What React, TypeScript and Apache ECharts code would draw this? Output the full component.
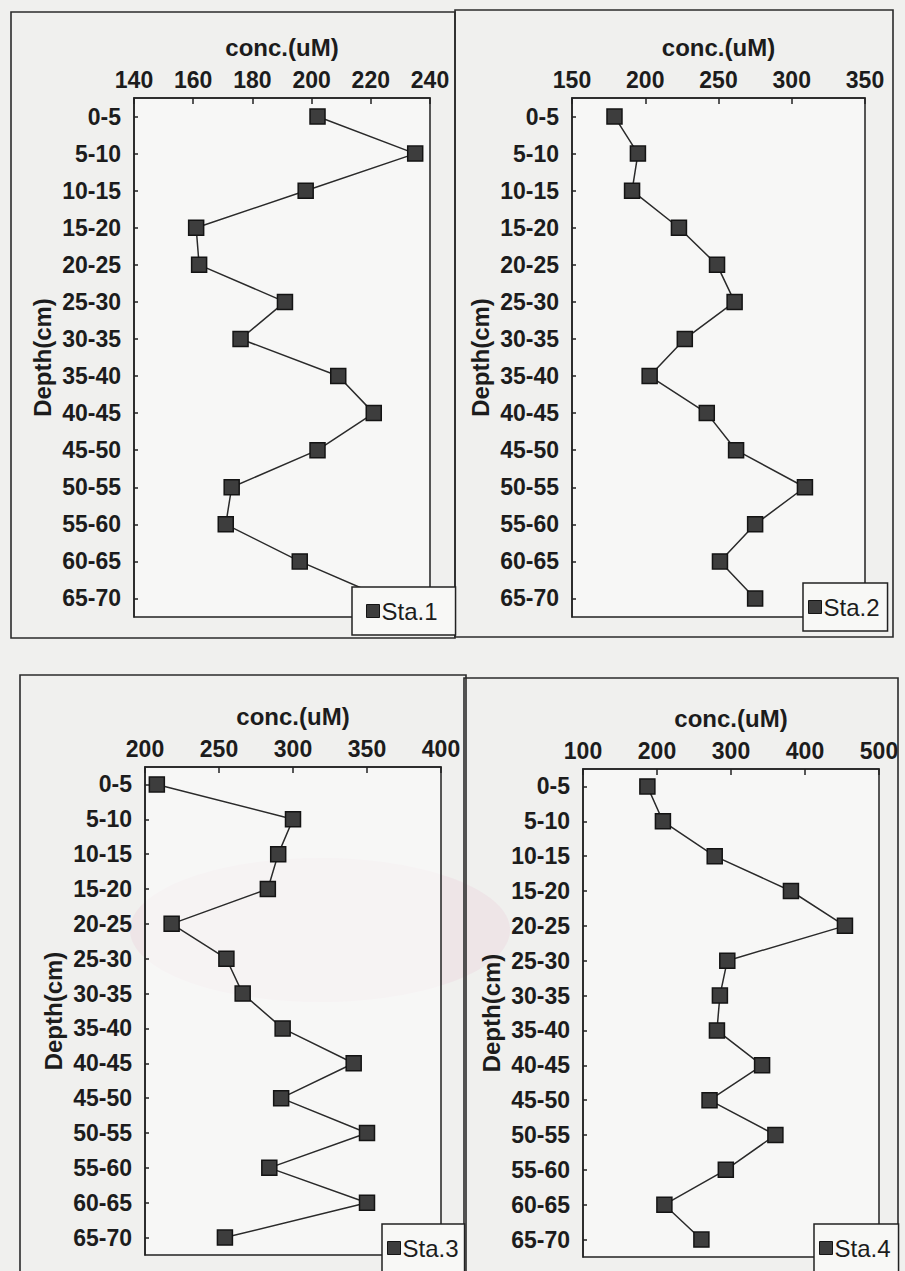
import React, { useEffect, useRef } from "react";
import * as echarts from "echarts";

// Depth intervals (cm), top to bottom
const depths = [
  "0-5", "5-10", "10-15", "15-20", "20-25", "25-30", "30-35",
  "35-40", "40-45", "45-50", "50-55", "55-60", "60-65", "65-70",
];

// Concentration profiles (uM) for each station
const sta1 = [202, 235, 198, 161, 162, 191, 176, 209, 221, 202, 173, 171, 196, 225];
const sta2 = [179, 195, 191, 223, 249, 261, 227, 203, 242, 262, 309, 275, 251, 275];
const sta3 = [208, 300, 290, 283, 218, 255, 266, 293, 341, 292, 350, 284, 350, 254];
const sta4 = [187, 208, 278, 381, 454, 295, 285, 281, 342, 271, 360, 293, 210, 260];

const stationNames = ["Sta.1", "Sta.2", "Sta.3", "Sta.4"];
const stationData = [sta1, sta2, sta3, sta4];

// Concentration axis ranges
const xMin = [140, 150, 200, 100];
const xMax = [240, 350, 400, 500];
const xStep = [20, 50, 50, 100];

const FONT = "'Liberation Sans', Arial, sans-serif";
const INK = "#1c1c1c";
const FS = 24;

// Plot rectangles [left, top, width, height]
const gridBoxes = [
  [134, 98, 296, 519],
  [572, 98, 293, 519],
  [145, 767, 296, 488],
  [583, 769, 296, 488],
];

// Outer frames [x, y, w, h]
const frames = [
  [11, 12, 444, 626],
  [455, 10, 438, 627],
  [20, 675, 446, 620],
  [464, 678, 434, 620],
];

// Legend boxes: left, top, padding
const legendPos = [
  { left: 352, top: 587, padding: [12, 18, 12, 14] },
  { left: 803, top: 583, padding: [12, 8, 12, 5] },
  { left: 382, top: 1224, padding: [12, 6, 20, 5] },
  { left: 814, top: 1224, padding: [12, 8, 20, 5] },
];

export default function App() {
  const ref = useRef<HTMLDivElement>(null);

  useEffect(() => {
    if (!ref.current) return;
    const chart = echarts.init(ref.current, null, { renderer: "svg" });

    const grid = gridBoxes.map(([l, t, w, h]) => ({
      left: l,
      top: t,
      width: w,
      height: h,
      show: true,
      backgroundColor: "rgba(252,252,251,0.6)",
      borderColor: "#222",
      borderWidth: 1.5,
    }));

    const xAxis = stationData.map((_, i) => ({
      type: "value",
      gridIndex: i,
      position: "top",
      min: xMin[i],
      max: xMax[i],
      interval: xStep[i],
      name: "conc.(uM)",
      nameLocation: "middle",
      nameGap: 39,
      nameTextStyle: { color: INK, fontFamily: FONT, fontWeight: "bold", fontSize: FS },
      axisLine: { show: true, lineStyle: { color: "#222", width: 1.5 } },
      axisTick: { show: true, inside: true, length: 6, lineStyle: { color: "#222", width: 1.5 } },
      axisLabel: { color: INK, fontFamily: FONT, fontWeight: "bold", fontSize: FS - 1, margin: 7 },
      splitLine: { show: false },
    }));

    const yAxis = stationData.map((_, i) => ({
      type: "category",
      gridIndex: i,
      data: depths,
      inverse: true,
      boundaryGap: true,
      name: "Depth(cm)",
      nameLocation: "middle",
      nameGap: 80,
      nameTextStyle: { color: INK, fontFamily: FONT, fontWeight: "bold", fontSize: FS },
      axisLine: { show: true, lineStyle: { color: "#222", width: 1.5 } },
      axisTick: { show: true, inside: true, alignWithLabel: true, length: 4, lineStyle: { color: "#222", width: 1.5 } },
      axisLabel: { color: INK, fontFamily: FONT, fontWeight: "bold", fontSize: FS - 1, margin: 13 },
      splitLine: { show: false },
    }));

    const series = stationData.map((data, i) => ({
      name: stationNames[i],
      type: "line",
      xAxisIndex: i,
      yAxisIndex: i,
      data: data.map((v, k) => [v, depths[k]]),
      symbol: "rect",
      symbolSize: 15,
      showAllSymbol: true,
      lineStyle: { color: "#2a2a2a", width: 1.5 },
      itemStyle: { color: "#3d3d3d", borderColor: "#141414", borderWidth: 1.5 },
      z: 2,
    }));

    const legend = stationNames.map((n, i) => ({
      data: [n],
      left: legendPos[i].left,
      top: legendPos[i].top,
      padding: legendPos[i].padding,
      orient: "horizontal",
      backgroundColor: "#f8f8f6",
      borderColor: "#222",
      borderWidth: 1.5,
      borderRadius: 0,
      itemWidth: 13,
      itemHeight: 13,
      itemGap: 2,
      icon: "rect",
      textStyle: { color: INK, fontFamily: FONT, fontSize: 24, padding: [0, 0, 0, -3] },
      itemStyle: { color: "#3d3d3d", borderColor: "#141414", borderWidth: 1 },
      selectedMode: false,
      z: 10,
    }));

    const graphic = [
      {
        type: "ellipse",
        shape: { cx: 320, cy: 930, rx: 190, ry: 72 },
        style: { fill: "rgba(235,200,214,0.28)" },
        silent: true,
        z: -20,
      },
      ...frames.map(([x, y, w, h]) => ({
        type: "rect",
        shape: { x, y, width: w, height: h },
        style: { fill: "none", stroke: "#2b2b2b", lineWidth: 1.6 },
        silent: true,
        z: -10,
      })),
    ];

    chart.setOption({
      animation: false,
      backgroundColor: "#f0f0ee",
      grid,
      xAxis,
      yAxis,
      series,
      legend,
      graphic,
    });

    return () => chart.dispose();
  }, []);

  return (
    <div
      ref={ref}
      style={{ position: "absolute", left: 0, top: 0, width: 905, height: 1271 }}
    />
  );
}
